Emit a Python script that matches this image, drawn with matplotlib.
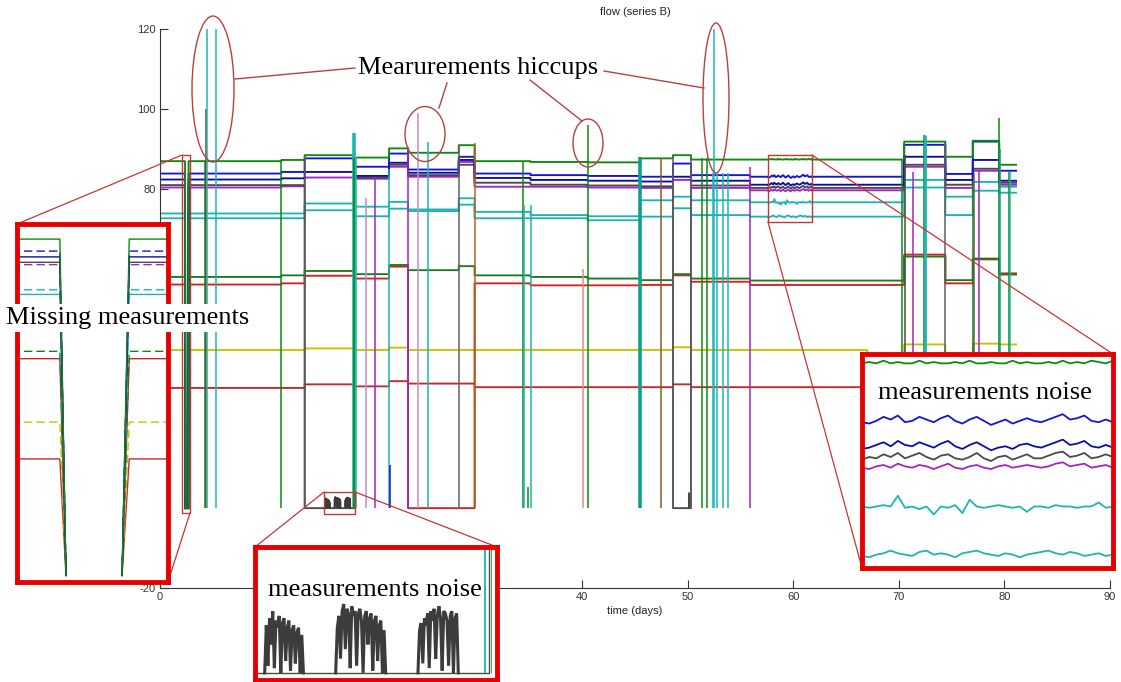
import numpy as np
import matplotlib.pyplot as plt
from matplotlib.patches import Ellipse, Rectangle

plt.rcParams['font.family'] = ['Liberation Sans', 'DejaVu Sans']
plt.rcParams['axes.unicode_minus'] = False
W, H = 1121, 682
nan = np.nan

# segments (days) where the levels stay roughly flat
seg_start = [0.0, 2.37, 2.71, 11.5, 13.7, 18.4, 21.7, 23.5, 28.3, 29.8, 35.1,
             40.5, 45.5, 48.6, 50.3, 55.9, 61.8, 67.0, 70.5, 74.4, 77.0, 79.5]
seg_end = [2.37, 2.71, 11.5, 13.7, 18.4, 21.7, 23.5, 28.3, 29.8, 35.1, 40.5,
           45.5, 48.6, 50.3, 55.9, 57.6, 67.0, 70.5, 74.4, 77.0, 79.5, 81.1]

# level of each series per segment (nan = missing samples)
green = [86.9, nan, 86.9, 87.2, 88.4, 87.8, 90.1, 89.0, 90.9, 86.9, 86.7,
         86.6, 87.6, 88.4, 87.3, 87.3, 87.3, 87.3, 91.8, 88.0, 92.0, 86.0]
blue = [83.8, nan, 83.8, 84.2, 87.6, 85.5, 88.8, 84.8, 88.0, 83.8, 83.4,
        83.2, 83.0, 86.3, 83.4, 83.0, 83.0, 83.0, 91.0, 83.7, 91.8, 84.5]
blue2 = [82.3, nan, 82.3, 82.6, 84.2, 83.2, 86.5, 84.0, 87.2, 82.7, 82.2,
         82.0, 81.8, 83.0, 82.0, 81.0, 81.0, 81.0, 88.0, 82.2, 87.2, 82.0]
black = [80.9, nan, 80.9, 80.9, 0.0, 82.8, 86.0, 83.4, 86.0, 81.5, 81.0,
         80.8, 80.6, 0.0, 80.8, 80.2, 80.2, 80.2, 86.0, 81.0, 85.0, 81.5]
magenta = [80.3, nan, 80.3, 80.6, 82.8, 82.5, 85.5, 83.0, 86.7, 80.5, 80.5,
           80.3, 80.2, 82.2, 80.2, 79.6, 79.6, 79.6, 85.5, 80.2, 84.5, 81.0]
cyan = [73.8, nan, 73.8, 73.8, 76.3, 75.5, 76.7, 74.8, 77.6, 74.2, 73.4,
        73.1, 77.1, 78.0, 77.1, 76.6, 76.6, 76.6, 82.2, 78.0, 81.7, 80.5]
cyan2 = [72.6, nan, 72.6, 72.6, 74.6, 73.1, 75.0, 74.4, 76.0, 72.6, 72.6,
         72.1, 73.0, 75.1, 73.4, 73.0, 73.0, 73.0, 80.3, 73.4, 79.5, 79.0]
green2 = [57.9, nan, 57.9, 58.3, 59.4, 58.6, 60.9, 59.6, 60.6, 58.3, 57.9,
          57.5, 57.1, 58.6, 57.5, 57.0, 57.0, 57.0, 63.0, 57.1, 62.5, 58.5]
red = [56.0, nan, 56.0, 56.3, 58.2, 57.5, 60.5, 0.0, 0.0, 56.3, 55.8,
       55.8, 55.9, 58.3, 56.7, 55.9, 55.9, 55.9, 63.5, 56.3, 62.3, 58.8]
yellow = [39.6, nan, 39.6, 39.6, 40.0, 39.6, 40.2, 39.6, 39.6, 39.6, 39.6,
          39.6, 39.6, 40.3, 39.6, 39.6, 39.6, 0.0, 41.0, 0.0, 41.2, 41.0]
red2 = [30.1, nan, 30.1, 30.1, 31.0, 30.5, 31.8, 31.2, 31.2, 30.3, 30.3,
        30.3, 30.3, 31.0, 30.3, 30.3, 30.3, 30.3, 34.0, 30.3, 33.0, 31.0]

# detailed samples in the "noise" window (days 57.6 - 61.8)
win_start, win_end = 57.6, 61.8
green_win = [87.3, 87.4, 87.3, 87.5, 87.3, 87.4, 87.3, 87.3, 87.5, 87.3, 87.4, 87.3,
             87.3, 87.4, 87.3, 87.5, 87.3, 87.3, 87.4, 87.3, 87.3, 87.5, 87.3, 87.4,
             87.3, 87.3, 87.4, 87.3, 87.5, 87.3, 87.4, 87.3, 87.5, 87.4, 87.3, 87.5]
blue_win = [82.9, 82.8, 83.0, 83.3, 83.1, 83.4, 82.9, 83.0, 83.3, 83.1, 82.9, 83.2,
            83.4, 83.0, 82.8, 83.1, 83.3, 83.0, 82.7, 82.9, 83.1, 82.8, 83.0, 83.2,
            83.0, 82.9, 83.1, 83.3, 83.5, 83.1, 83.2, 83.4, 83.0, 82.9, 83.1, 82.9]
blue2_win = [80.9, 81.0, 81.2, 81.4, 81.1, 81.5, 81.2, 81.1, 81.4, 81.2, 81.0, 81.3,
             81.5, 81.1, 80.9, 81.2, 81.4, 81.1, 80.8, 81.0, 81.1, 80.9, 81.2, 81.3,
             81.1, 81.0, 81.2, 81.4, 81.6, 81.2, 81.3, 81.5, 81.1, 81.0, 81.2, 81.0]
black_win = [80.1, 80.3, 80.2, 80.5, 80.3, 80.6, 80.2, 80.4, 80.6, 80.3, 80.1, 80.4,
             80.5, 80.2, 80.1, 80.3, 80.6, 80.2, 80.0, 80.3, 80.4, 80.1, 80.3, 80.5,
             80.2, 80.2, 80.4, 80.6, 80.7, 80.3, 80.4, 80.6, 80.2, 80.3, 80.5, 80.3]
magenta_win = [79.5, 79.4, 79.6, 79.7, 79.5, 79.8, 79.6, 79.5, 79.7, 79.6, 79.4, 79.6,
               79.8, 79.5, 79.4, 79.6, 79.7, 79.5, 79.4, 79.6, 79.7, 79.5, 79.6, 79.7,
               79.6, 79.5, 79.6, 79.8, 79.9, 79.6, 79.7, 79.8, 79.5, 79.6, 79.7, 79.5]
cyan_win = [76.6, 76.5, 76.6, 76.7, 76.6, 77.4, 76.5, 76.6, 76.4, 76.6, 76.0, 76.6,
            76.5, 76.7, 76.1, 77.1, 76.6, 76.5, 76.6, 76.7, 76.6, 76.5, 76.6, 76.2,
            76.6, 76.6, 76.5, 76.7, 76.6, 76.6, 76.5, 76.6, 76.6, 76.9, 76.5, 76.6]
cyan2_win = [72.9, 72.8, 73.0, 73.1, 73.3, 73.1, 73.0, 72.9, 73.2, 73.3, 73.0, 73.1,
             73.0, 72.8, 73.1, 73.2, 73.3, 73.1, 73.0, 72.9, 73.1, 73.0, 72.8, 73.0,
             73.1, 73.2, 73.3, 73.1, 73.0, 73.2, 73.1, 72.9, 73.0, 73.1, 72.9, 73.0]

# bursts of the dark series while it reads zero (days 15.6 - 18.1)
burst_starts = [15.62, 16.50, 17.52]
burst1 = [0.0, 2.0, 0.3, 2.3, 1.2, 2.6, 0.2, 2.2, 1.9, 2.4, 0.0, 2.1, 2.3, 0.5, 1.9,
          2.2, 0.1, 1.8, 2.0, 0.4, 1.7, 1.9, 0.0, 1.6, 0.0]
burst2 = [0.0, 1.9, 2.4, 0.6, 2.6, 2.9, 1.0, 2.7, 2.5, 0.2, 2.8, 2.4, 2.6, 0.3, 2.5,
          2.7, 2.2, 0.0, 2.4, 2.6, 1.2, 2.3, 2.5, 0.1, 2.2, 2.4, 0.5, 2.0, 2.2, 0.0,
          1.8, 0.0]
burst3 = [0.0, 1.8, 2.1, 0.4, 2.3, 2.0, 2.5, 0.2, 2.6, 2.2, 2.7, 0.6, 2.4, 2.8, 2.3,
          0.1, 2.6, 2.5, 2.2, 0.3, 2.4, 2.6, 0.0, 2.3, 2.5, 0.0]

# single-sample glitches: drops to zero / hiccup spikes (day, top value)
glitch_days = [4.30, 4.38, 4.48, 5.30, 11.5, 13.7, 18.35, 18.42, 18.55, 19.5, 20.4,
               21.7, 21.75, 23.5, 24.4, 25.4, 28.3, 29.8, 34.4, 34.45, 34.9, 35.1,
               40.1, 40.5, 45.5, 47.5, 48.6, 50.15, 50.3, 51.3, 51.8, 52.35, 52.45,
               52.8, 53.3, 53.8, 55.9, 70.3, 70.6, 71.3, 72.4, 72.5, 74.4, 77.0,
               77.1, 77.6, 79.45, 79.6, 80.4, 80.5]
glitch_tops = [87.0, 100.0, 120.0, 120.0, 87.2, 88.4, 94.0, 87.8, 88.0, 77.6, 83.0,
               85.0, 10.7, 90.5, 99.0, 91.8, 90.9, 91.4, 86.7, 76.0, 5.3, 76.0,
               60.0, 96.0, 88.0, 87.6, 88.0, 4.0, 88.0, 87.6, 87.6, 84.0, 121.0,
               84.0, 84.0, 84.0, 85.5, 87.3, 88.4, 84.2, 93.4, 93.4, 91.4, 81.4,
               84.0, 84.7, 97.6, 90.0, 84.2, 84.2]

# ---- styles ----
c_green, c_blue, c_blue2 = '#0e8a0e', '#1414d2', '#0c0caa'
c_black, c_mag, c_cyan = '#4a4a4a', '#a424c4', '#1eb4b4'
c_green2, c_red, c_yel, c_red2 = '#1c7c1c', '#d42222', '#c6c400', '#c42a2a'
c_lpur, c_gray, c_brown = '#b890d2', '#606060', '#b4641e'
glitch_colors = [c_green2, '#7b3f1d', c_cyan, c_cyan, c_green, c_gray, c_cyan, c_green,
                 c_cyan, c_lpur, c_mag, c_cyan, c_blue, c_mag, c_lpur, c_cyan, c_gray,
                 c_brown, c_green, c_cyan, c_green, c_cyan, '#e08a8a', c_green,
                 '#10a08a', '#8b5a2b', c_gray, c_black, c_gray, c_green, c_green,
                 c_cyan, c_cyan, c_cyan, c_cyan, c_cyan, c_mag, c_green, c_black,
                 c_mag, c_green, c_cyan, c_gray, c_green, c_gray, c_mag, c_green,
                 '#10a08a', c_green, c_cyan]
thick = {18.35: 2.6, 45.5: 2.6, 72.5: 2.0, 50.15: 2.2}

series = [  # drawing order: first at the bottom
    (red2, None, c_red2, '-'), (yellow, None, c_yel, '--'), (red, None, c_red, '-'),
    (green2, None, c_green2, '--'), (cyan2, cyan2_win, c_cyan, '-'),
    (cyan, cyan_win, c_cyan, '--'), (magenta, magenta_win, c_mag, '--'),
    (black, black_win, c_black, '-'), (blue2, blue2_win, c_blue2, '-'),
    (blue, blue_win, c_blue, '--'), (green, green_win, c_green, '-'),
]


def build(levels, window=None):
    xs, ys = [], []
    for s, e, v in zip(seg_start, seg_end, levels):
        if np.isnan(v):
            xs += [s + 0.03, nan, e - 0.035]
            ys += [0.0, nan, 0.0]
        else:
            xs += [s, e]
            ys += [v, v]
        if window is not None and e == win_start:
            xs += list(np.linspace(win_start, win_end, len(window)))
            ys += list(window)
    return xs, ys


bx, by = [], []
for st, vals in zip(burst_starts, [burst1, burst2, burst3]):
    bx += list(st + 0.02 * np.arange(len(vals))) + [nan]
    by += vals + [nan]


def draw_data(a, lw, inset_styles=False, glitches=True, burst_lw=1.0, glitch_scale=1.0):
    for levels, win, col, ls in series:
        x, y = build(levels, win)
        a.plot(x, y, color=col, lw=lw, ls=ls if inset_styles else '-',
               dashes=(6, 3) if (inset_styles and ls == '--') else (None, None))
    a.plot(bx, by, color='#3c3c3c', lw=burst_lw, solid_joinstyle='miter')
    if glitches:
        for d, t, col in zip(glitch_days, glitch_tops, glitch_colors):
            a.vlines(d, 0, t, color=col, lw=thick.get(d, 1.1) * glitch_scale)


fig = plt.figure(figsize=(W / 100, H / 100), dpi=100)

# main axes
ax = fig.add_axes([160 / W, 94 / H, 950 / W, 559 / H], zorder=0)
draw_data(ax, 1.35)
ax.set_xlim(0, 90)
ax.set_ylim(-20, 120)
xt = list(range(0, 91, 10))
yt = list(range(-20, 121, 20))
ax.set_xticks(xt)
ax.set_yticks(yt)
# labels under the zoom insets are hidden in the reference
ax.set_xticklabels([str(v) if v not in (10, 20, 30) else '' for v in xt])
ax.set_yticklabels([str(v) if v not in (0, 20, 40, 60) else '' for v in yt])
ax.tick_params(direction='in', length=6, width=0.8, labelsize=8, pad=3,
               colors='#333333')
for sp in ['top', 'right']:
    ax.spines[sp].set_visible(False)
for sp in ['left', 'bottom']:
    ax.spines[sp].set_color('#333333')
    ax.spines[sp].set_linewidth(0.8)
ax.set_title('flow (series B)', fontsize=8, pad=10, color='#222222')
ax.set_xlabel('time (days)', fontsize=8, labelpad=3, color='#222222')

# overlay in pixel coordinates for callouts
ov = fig.add_axes([0, 0, 1, 1], zorder=1)
ov.set_xlim(0, W)
ov.set_ylim(H, 0)
ov.axis('off')
ecol = '#b84040'
for (cx, cy), (ew, eh) in zip([(213, 89), (425, 134), (588, 143), (716, 98)],
                              [(42, 146), (40, 55), (30, 48), (26, 150)]):
    ov.add_patch(Ellipse((cx, cy), ew, eh, fill=False, ec=ecol, lw=1.0))
for (x0, y0), (x1, y1) in [((355, 68), (235, 79)), ((447, 83), (439, 108)),
                           ((530, 80), (582, 121)), ((604, 71), (704, 88))]:
    ov.plot([x0, x1], [y0, y1], color=ecol, lw=1.0)
bcol = '#cc3333'
for (x0, y0, x1, y1) in [(182, 155, 190, 513), (324, 492, 355, 514), (768, 155, 812, 222)]:
    ov.add_patch(Rectangle((x0, y0), x1 - x0, y1 - y0, fill=False, ec=bcol, lw=1.0))
for (x0, y0), (x1, y1) in [((182, 155), (17, 224)), ((190, 513), (168, 582)),
                           ((324, 492), (255, 547)), ((355, 492), (497, 547)),
                           ((812, 155), (1113, 354)), ((768, 222), (862, 568))]:
    ov.plot([x0, x1], [y0, y1], color=bcol, lw=0.9)


def make_inset(rect):
    a = fig.add_axes([rect[0] / W, (H - rect[3]) / H, (rect[2] - rect[0]) / W,
                      (rect[3] - rect[1]) / H], zorder=2)
    a.set_xticks([])
    a.set_yticks([])
    for sp in a.spines.values():
        sp.set_color('#e60000')
        sp.set_linewidth(3.5)
    return a


# left inset: missing measurements
ins_l = make_inset((17, 224, 168, 582))
draw_data(ins_l, 1.0, inset_styles=True, glitches=False)
ins_l.set_xlim(2.16, 2.90)
ins_l.set_ylim(-1.7, 90.8)

# bottom inset: noise bursts
ins_b = make_inset((255, 547, 497, 680))
draw_data(ins_b, 1.0, burst_lw=2.2, glitch_scale=0.5)
ins_b.set_xlim(15.5, 18.5)
ins_b.set_ylim(-0.3, 5.3)
ins_b.text(0.496, 0.68, 'measurements noise', transform=ins_b.transAxes,
           ha='center', va='center', fontsize=19, family='Liberation Serif')

# right inset: measurement noise
ins_r = make_inset((862, 354, 1113, 568))
draw_data(ins_r, 1.3)
ins_r.set_xlim(win_start, win_end)
ins_r.set_ylim(72.0, 88.0)
ins_r.text(0.49, 0.82, 'measurements noise', transform=ins_r.transAxes,
           ha='center', va='center', fontsize=19, family='Liberation Serif')

fig.text(478 / W, 1 - 68 / H, 'Mearurements hiccups', ha='center', va='center',
         fontsize=19, family='Liberation Serif', zorder=5)
fig.text(128 / W, 1 - 318 / H, 'Missing measurements', ha='center', va='center',
         fontsize=19, family='Liberation Serif', zorder=5,
         bbox=dict(fc='white', ec='none', pad=2))

fig.savefig('out.png', dpi=100)
